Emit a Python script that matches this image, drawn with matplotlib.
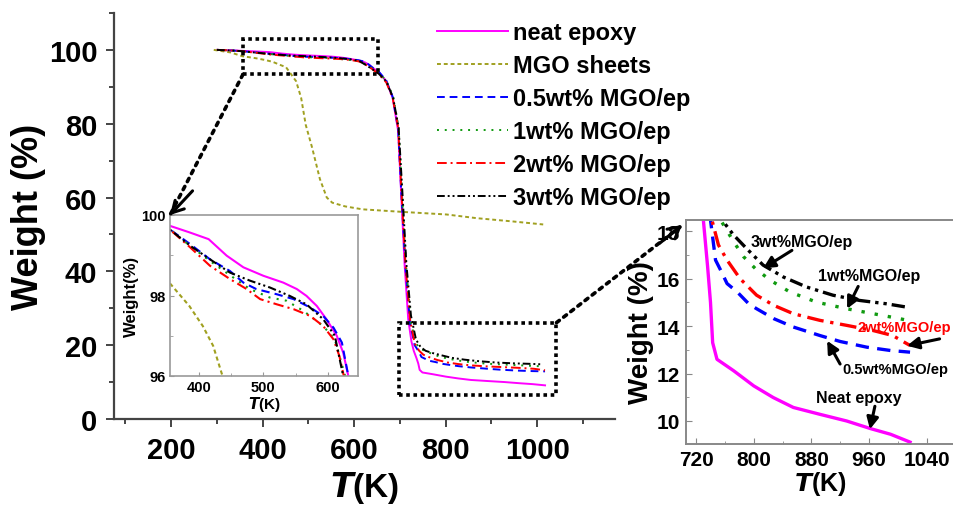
import matplotlib
matplotlib.use("Agg")
import matplotlib.pyplot as plt
from matplotlib.patches import Rectangle, ConnectionPatch
from matplotlib.ticker import MultipleLocator

plt.rcParams['font.family'] = ['Liberation Sans', 'DejaVu Sans']
plt.rcParams['font.weight'] = 'bold'
plt.rcParams['axes.labelweight'] = 'bold'

# ---- data (T in K, weight in %) ----
neat_T = [300, 330, 355, 385, 415, 443, 469, 500, 531, 552, 567, 583, 598, 614, 624, 632,
          642, 655, 670, 684, 696, 703, 710, 718, 725, 730, 736, 740, 743, 749, 772, 800,
          827, 855, 892, 929, 962, 990, 1017]
neat_W = [100, 99.88, 99.73, 99.57, 99.40, 98.99, 98.70, 98.49, 98.32, 98.16, 97.99, 97.74,
          97.41, 97.0, 96.58, 96.0, 95.0, 93.8, 91.5, 87.0, 78.0, 60.0, 42.0, 27.0, 21.0,
          18.5, 16.5, 15.0, 13.3, 12.6, 12.12, 11.48, 10.99, 10.57, 10.28, 10.0, 9.68, 9.44, 9.11]

mgo_T = [293, 330, 355, 385, 406, 422, 435, 451, 473, 484, 494, 508, 525, 540, 552, 580,
         618, 706, 802, 868, 948, 1013]
mgo_W = [100, 99.3, 98.3, 97.74, 97.24, 96.75, 96.08, 95.3, 91.5, 87.0, 79.7, 73.5, 65.0,
         60.0, 58.6, 57.6, 56.8, 56.1, 55.4, 54.4, 53.5, 52.7]

ep05_T = [300, 330, 354, 386, 417, 448, 469, 489, 521, 547, 573, 593, 609, 622, 632, 642,
          655, 670, 684, 696, 703, 712, 722, 732, 740, 747, 754, 763, 777, 793, 804, 828,
          855, 892, 920, 957, 990, 1017]
ep05_W = [100, 99.85, 99.65, 99.28, 98.90, 98.61, 98.32, 98.16, 98.03, 97.91, 97.70, 97.49,
          97.2, 96.83, 96.0, 95.0, 93.9, 91.7, 87.3, 78.5, 61.0, 41.0, 26.0, 20.0, 18.47,
          16.78, 16.36, 15.79, 15.44, 14.94, 14.73, 14.31, 13.96, 13.6, 13.35, 13.11, 12.97, 12.9]

ep1_T = [300, 330, 354, 385, 417, 453, 479, 510, 536, 562, 593, 611, 627, 640, 655, 670,
         685, 697, 704, 713, 723, 733, 742, 754, 772, 786, 802, 823, 850, 887, 929, 966,
         1003, 1012]
ep1_W = [100, 99.85, 99.65, 99.25, 98.86, 98.45, 98.16, 97.95, 97.87, 97.62, 97.24, 96.91,
         96.0, 94.9, 93.7, 91.6, 87.5, 79.0, 62.0, 42.0, 27.0, 21.0, 19.2, 18.47, 17.56,
         16.92, 16.43, 15.93, 15.44, 15.01, 14.73, 14.52, 14.31, 14.25]

ep2_T = [300, 330, 354, 386, 417, 448, 474, 495, 521, 547, 573, 593, 609, 618, 625, 637,
         652, 670, 684, 696, 703, 712, 722, 732, 742, 751, 763, 781, 804, 828, 855, 892,
         929, 966, 993, 1017]
ep2_W = [100, 99.85, 99.65, 99.2, 98.74, 98.41, 98.16, 97.91, 97.78, 97.66, 97.49, 97.24,
         96.91, 96.5, 96.0, 95.0, 93.6, 91.2, 87.0, 79.0, 62.0, 42.0, 27.0, 20.5, 18.47,
         17.42, 16.78, 16.0, 15.3, 14.87, 14.52, 14.24, 14.03, 13.81, 13.6, 13.18]

ep3_T = [300, 330, 354, 386, 417, 448, 479, 510, 541, 567, 593, 611, 624, 638, 653, 670,
         685, 697, 705, 714, 724, 735, 745, 756, 772, 790, 813, 841, 873, 910, 947, 984, 1012]
ep3_W = [100, 99.85, 99.65, 99.24, 98.90, 98.57, 98.37, 98.2, 97.99, 97.78, 97.41, 97.0,
         96.0, 94.9, 93.6, 91.5, 87.0, 79.0, 62.0, 42.0, 28.0, 21.5, 19.5, 18.47, 17.84,
         17.27, 16.57, 16.07, 15.65, 15.3, 15.08, 14.94, 14.8]

labels = ["neat epoxy", "MGO sheets", "0.5wt% MGO/ep", "1wt% MGO/ep",
          "2wt% MGO/ep", "3wt% MGO/ep"]
series = [(neat_T, neat_W), (mgo_T, mgo_W), (ep05_T, ep05_W), (ep1_T, ep1_W),
          (ep2_T, ep2_W), (ep3_T, ep3_W)]
colors = ['#ff00ff', '#a0a020', '#0000ff', '#109a10', '#ff0000', '#000000']
styles = ['-', (0, (2, 1.5)), (0, (4, 2.5)), (0, (1, 3)), (0, (5, 2, 1, 2)),
          (0, (4, 1.5, 1, 1.5, 1, 1.5))]


def draw_series(ax, lw, skip_mgo=False):
    handles = []
    for (T, W), lab, c, ls in zip(series, labels, colors, styles):
        if skip_mgo and lab == "MGO sheets":
            continue
        h, = ax.plot(T, W, color=c, linestyle=ls, lw=lw, label=lab)
        handles.append(h)
    return handles


fig = plt.figure(figsize=(9.54, 5.06), dpi=100)

# ---- main axes ----
ax = fig.add_axes([0.1195, 0.170, 0.5252, 0.8024])
handles = draw_series(ax, 1.4)
ax.set_xlim(75, 1170)
ax.set_ylim(0, 110)
ax.xaxis.set_major_locator(MultipleLocator(200))
ax.xaxis.set_minor_locator(MultipleLocator(100))
ax.yaxis.set_major_locator(MultipleLocator(20))
ax.yaxis.set_minor_locator(MultipleLocator(10))
ax.set_xticks([200, 400, 600, 800, 1000])
ax.spines['top'].set_visible(False)
ax.spines['right'].set_visible(False)
for s in ['left', 'bottom']:
    ax.spines[s].set_color('#444444')
    ax.spines[s].set_linewidth(1.6)
ax.tick_params(which='major', length=6, width=1.4, color='#444444', labelsize=21, pad=6)
ax.tick_params(which='minor', length=3.5, width=1.4, color='#444444')
ax.set_xlabel(r"$\bfit{T}$(K)", fontsize=24, labelpad=4)
ax.set_ylabel("Weight (%)", fontsize=26, labelpad=2)

# zoom boxes on the main plot
ax.add_patch(Rectangle((357, 93.4), 295, 9.5, fill=False, ls=(0, (1, 1)), lw=2.6,
                       color='black', zorder=5))
ax.add_patch(Rectangle((698, 6.5), 344, 19.6, fill=False, ls=(0, (1, 1)), lw=2.6,
                       color='black', zorder=5))

leg = ax.legend(handles=handles, loc='upper left', bbox_to_anchor=(437 / 954, 0.956),
                bbox_transform=fig.transFigure, frameon=False, fontsize=17,
                handlelength=3.0, handletextpad=0.22, labelspacing=0.42,
                borderpad=0, borderaxespad=0)

# ---- inset 1: 355-647 K, 96-100 % ----
ax1 = fig.add_axes([170 / 954, 1 - 377 / 506, 188 / 954, 161 / 506])
draw_series(ax1, 1.5)
ax1.set_xlim(355, 647)
ax1.set_ylim(96, 100)
ax1.set_xticks([400, 500, 600])
ax1.xaxis.set_minor_locator(MultipleLocator(50))
ax1.set_yticks([96, 98, 100])
ax1.yaxis.set_minor_locator(MultipleLocator(1))
for s in ax1.spines.values():
    s.set_color('#999999')
    s.set_linewidth(1.2)
ax1.tick_params(which='both', direction='in', color='#999999', labelsize=10.5, pad=3)
ax1.tick_params(which='major', length=3)
ax1.tick_params(which='minor', length=2)
ax1.set_xlabel(r"$\bfit{T}$(K)", fontsize=11, labelpad=0)
ax1.set_ylabel("Weight(%)", fontsize=12, labelpad=2)

# ---- inset 2: 706-1078 K, 9-18.5 % ----
ax2 = fig.add_axes([686 / 954, 1 - 445 / 506, 1 - 686 / 954, 224 / 506])
draw_series(ax2, 2.4, skip_mgo=True)
ax2.set_xlim(706, 1078)
ax2.set_ylim(9.03, 18.47)
ax2.set_xticks([720, 800, 880, 960, 1040])
ax2.xaxis.set_minor_locator(MultipleLocator(40))
ax2.set_yticks([10, 12, 14, 16, 18])
ax2.yaxis.set_minor_locator(MultipleLocator(1))
ax2.spines['right'].set_visible(False)
for s in ['left', 'bottom', 'top']:
    ax2.spines[s].set_color('#888888')
    ax2.spines[s].set_linewidth(1.4)
ax2.tick_params(which='both', direction='in', color='#888888', labelsize=15, pad=4)
ax2.tick_params(which='major', length=4)
ax2.tick_params(which='minor', length=2.5)
ax2.set_xlabel(r"$\bfit{T}$(K)", fontsize=18, labelpad=0)
ax2.set_ylabel("Weight (%)", fontsize=20, labelpad=2)

# annotations inside inset 2
ann = [("3wt%MGO/ep", (795, 17.57), (853, 17.19), (813, 16.43), 'black', 11.5),
       ("1wt%MGO/ep", (889, 16.13), (945, 15.67), (929.6, 14.73), 'black', 11.5),
       ("2wt%MGO/ep", (944, 13.97), (1058, 13.46), (1012.7, 13.17), 'red', 10.5),
       ("0.5wt%MGO/ep", (922.5, 12.19), (919.9, 12.4), (901.9, 13.38), 'black', 10.5),
       ("Neat epoxy", (886.5, 11.0), (968.2, 10.62), (961.3, 9.65), 'black', 11.5)]
for txt, tpos, tail, head, c, fs in ann:
    ax2.text(tpos[0], tpos[1], txt, color=c, fontsize=fs, ha='left', va='center',
             clip_on=False)
    ax2.annotate('', xy=head, xytext=tail,
                 arrowprops=dict(arrowstyle='-|>,head_length=0.7,head_width=0.35',
                                 color='black', lw=2.2, shrinkA=0, shrinkB=0))

# dotted connectors from the zoom boxes to the insets
con1 = ConnectionPatch(xyA=(357, 93.4), coordsA=ax.transData, xyB=(0, 1),
                       coordsB=ax1.transAxes, ls=(0, (1, 1.5)), lw=2.6, color='black',
                       zorder=6)
fig.add_artist(con1)
ax1.annotate('', xy=(0, 1), xycoords='axes fraction', xytext=(0.12, 1.15),
             textcoords='axes fraction',
             arrowprops=dict(arrowstyle='->,head_length=0.8,head_width=0.45',
                             color='black', lw=2.2, shrinkA=0, shrinkB=0))
con2 = ConnectionPatch(xyA=(1042, 26.1), coordsA=ax.transData, xyB=(680 / 954, 1 - 228 / 506),
                       coordsB=fig.transFigure, ls=(0, (1, 1.5)), lw=2.6, color='black',
                       zorder=6)
fig.add_artist(con2)
fig.add_artist(ConnectionPatch(xyA=(660 / 954, 1 - 244 / 506), coordsA=fig.transFigure,
                               xyB=(682 / 954, 1 - 226 / 506), coordsB=fig.transFigure,
                               arrowstyle='->,head_length=0.8,head_width=0.45',
                               color='black', lw=2.2))

fig.savefig("out.png", dpi=100)
